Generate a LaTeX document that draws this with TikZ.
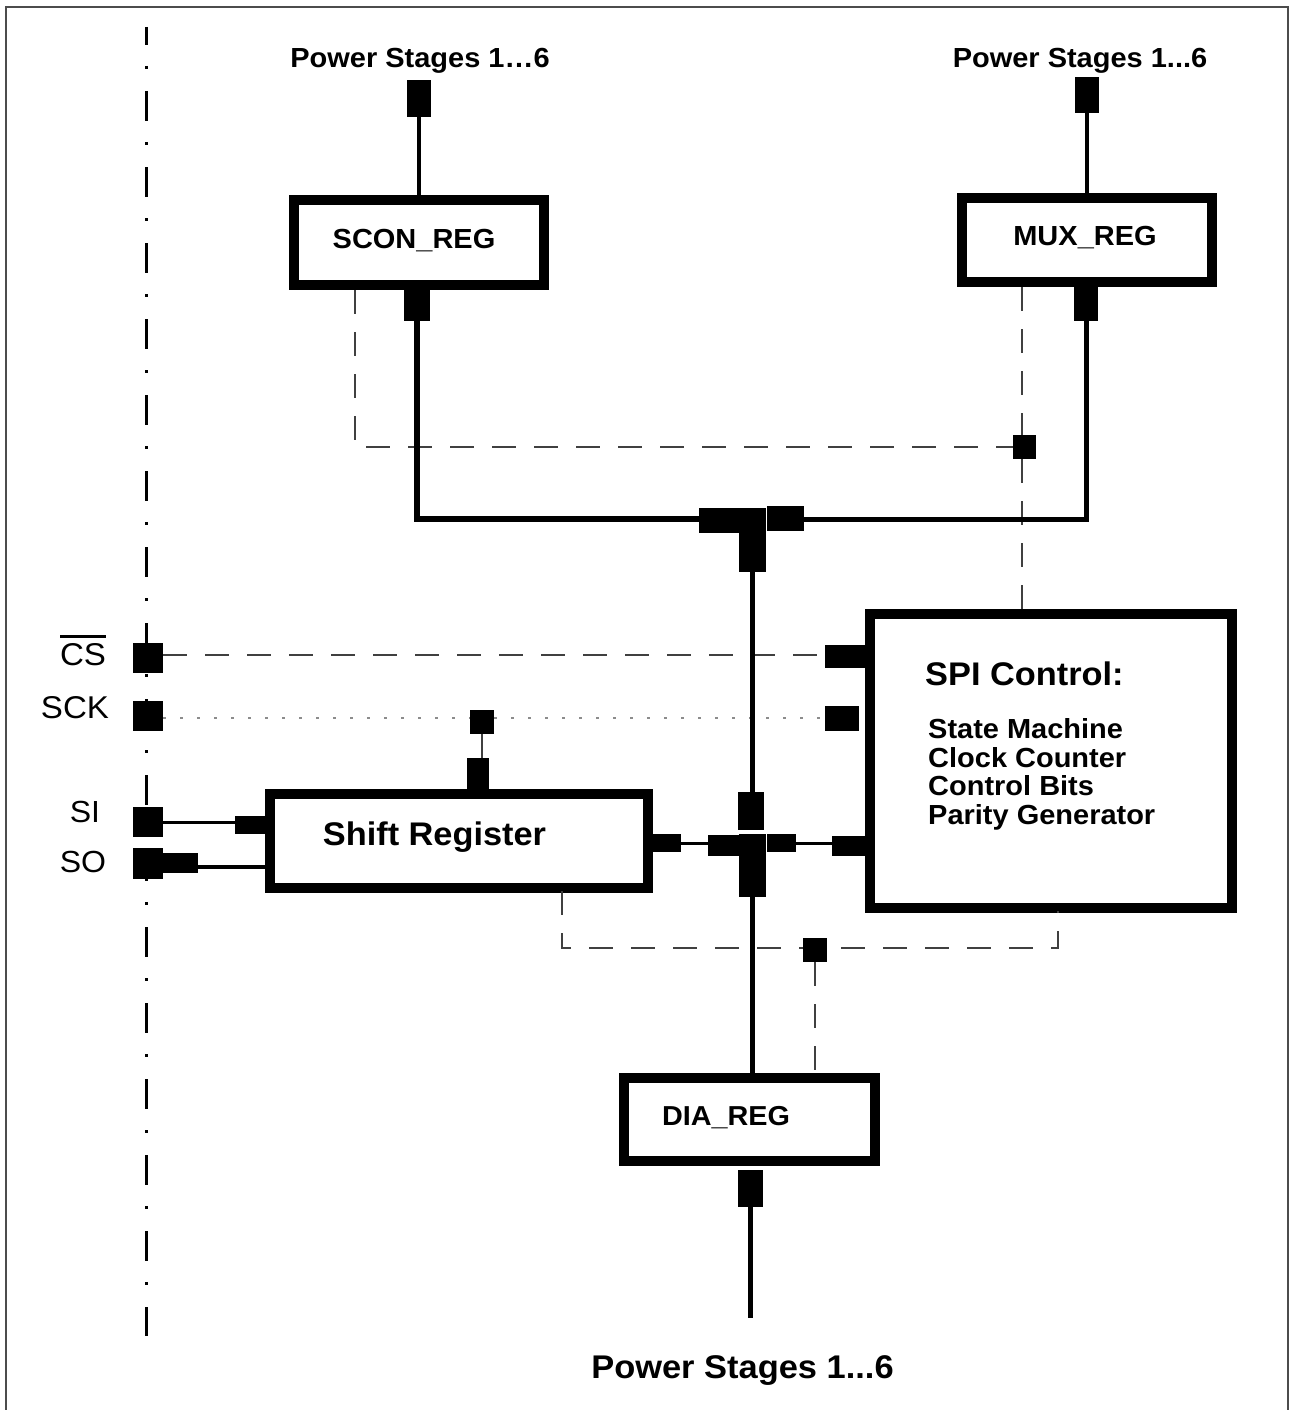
\documentclass[tikz,border=0pt]{standalone}
\usepackage{fontspec}
\setmainfont{Liberation Sans}[FakeStretch=1.05]
\newcommand\fsz[1]{\fontsize{#1}{#1}\selectfont}
\begin{document}
\begin{tikzpicture}[x=1pt,y=-1pt,
  pin/.style={fill=black, draw=none, inner sep=0pt, rectangle},
  regbox/.style={draw=black, line width=9.5pt, inner sep=0pt, rectangle},
  bus/.style={line width=4.5pt},
  thinbus/.style={line width=3pt},
  dashln/.style={line width=1.6pt, black!75, dash pattern=on 24pt off 18pt},
  dotln/.style={line width=2.5pt, black!45, dash pattern=on 3pt off 14pt},
  axisln/.style={line width=3pt, dash pattern=on 30pt off 21pt on 3pt off 22pt},
  lbl/.style={inner sep=0pt, anchor=base},
  bl/.style={lbl, font=\bfseries\fsz{#1}},
  rl/.style={lbl, font=\fsz{#1}}
]
\useasboundingbox (0,0) rectangle (1289,1410);

% outer frame (open at bottom)
\coordinate (f1) at (6,1410);
\coordinate (f2) at (6,7);
\coordinate (f3) at (1288,7);
\coordinate (f4) at (1288,1410);
\draw[line width=2pt, black!70] (f1) -- (f2) -- (f3) -- (f4);

% left dash-dot axis
\coordinate (ax1) at (146,27);
\coordinate (ax2) at (146,1336);
\draw[axisln, dash phase=12pt] (ax1) -- (ax2);

% register boxes
\node[regbox, minimum width=250pt, minimum height=85pt] (scon) at (419,242.5) {};
\node[regbox, minimum width=250pt, minimum height=84pt] (mux) at (1087,240) {};
\node[regbox, minimum width=362pt, minimum height=294pt] (spi) at (1051,761) {};
\node[regbox, minimum width=378pt, minimum height=94pt] (shift) at (459,841) {};
\node[regbox, minimum width=251pt, minimum height=83pt] (dia) at (749.5,1119.5) {};

% pins (defined, drawn on top later)
\begin{scope}
\node[pin, minimum width=24pt, minimum height=37pt] (pTL) at (419,98.5) {};
\node[pin, minimum width=24pt, minimum height=36pt] (pTR) at (1087,95) {};
\node[pin, minimum width=26pt, minimum height=31pt] (pSconB) at (417,305.5) {};
\node[pin, minimum width=24pt, minimum height=34pt] (pMuxB) at (1086,304) {};
\node[pin, minimum width=23pt, minimum height=24pt] (pDash) at (1024.5,447) {};
\node[pin, minimum width=41pt, minimum height=25pt] (jL) at (719.5,520.5) {};
\node[pin, minimum width=26pt, minimum height=64pt] (jV) at (752.5,540) {};
\node[pin, minimum width=37pt, minimum height=25pt] (jR) at (785.5,518.5) {};
\node[pin, minimum width=25pt, minimum height=38pt] (cT) at (751,811) {};
\node[pin, minimum width=32pt, minimum height=21pt] (cL) at (724,845.5) {};
\node[pin, minimum width=26pt, minimum height=63pt] (cV) at (752.5,865.5) {};
\node[pin, minimum width=29pt, minimum height=18pt] (cR) at (781.5,843) {};
\node[pin, minimum width=29pt, minimum height=18pt] (sR) at (666.5,843) {};
\node[pin, minimum width=34pt, minimum height=20pt] (spiD) at (849,846) {};
\node[pin, minimum width=40pt, minimum height=23pt] (spiCS) at (845,656.5) {};
\node[pin, minimum width=34pt, minimum height=25pt] (spiSCK) at (842,718.5) {};
\node[pin, minimum width=24pt, minimum height=24pt] (sckM) at (482,722) {};
\node[pin, minimum width=22pt, minimum height=32pt] (shT) at (478,774) {};
\node[pin, minimum width=30pt, minimum height=18pt] (siP) at (250,825) {};
\node[pin, minimum width=30pt, minimum height=29pt] (pCS) at (148,658) {};
\node[pin, minimum width=30pt, minimum height=29pt] (pSCK) at (148,716) {};
\node[pin, minimum width=30pt, minimum height=29pt] (pSI) at (148,822) {};
\node[pin, minimum width=30pt, minimum height=30pt] (pSO) at (148,863.5) {};
\node[pin, minimum width=35pt, minimum height=20pt] (pSOx) at (180.5,863) {};
\node[pin, minimum width=25pt, minimum height=37pt] (pDiaB) at (750.5,1188.5) {};
\node[pin, minimum width=24pt, minimum height=24pt] (pBd) at (815,950) {};
\end{scope}

% dashed control lines
\coordinate (d1) at (355,290);
\coordinate (m1) at (1022,287);
\coordinate (m2) at (1022,612);
\coordinate (csl) at (163,655);
\coordinate (sckl) at (163,718);
\coordinate (b1) at (562,891);
\coordinate (bL) at (562,948);
\coordinate (bR) at (1058,948);
\coordinate (b2) at (1058,911);
\begin{scope}[on background layer/.style={}]
\draw[dashln] (d1) |- (pDash.west);
\draw[dashln] (m1) -- (m1 |- pDash.north);
\draw[dashln] (m1 |- pDash.south) -- (m2);
\draw[dashln] (csl) -- (csl -| spiCS.west);
\draw[dotln] (sckl) -- (sckl -| sckM.west);
\draw[dotln] (sckl -| sckM.east) -- (sckl -| spiSCK.west);
\draw[dashln] (sckM.south) -- (sckM.south |- shT.north);
\draw[dashln] (b1) -- (bL) -- (bR) -- (b2);
\draw[dashln] (pBd.south) -- (pBd.south |- dia.north);
\end{scope}

% solid connections
\coordinate (pEnd) at (751,1318);
\draw[bus] (pTL.south) -- (pTL.south |- scon.north);
\draw[bus] (pTR.south) -- (pTR.south |- mux.north);
\draw[line width=5.5pt] (pSconB.south) |- ([yshift=1.5pt]jL.west);
\draw[line width=5pt] (pMuxB.south) |- ([yshift=-0.5pt]jR.east);
\draw[bus] (jV.south) -- (jV.south |- cT.north);
\draw[bus] (cV.south) -- (cV.south |- dia.north);
\draw[bus] (pDiaB.south) -- (pDiaB.south |- pEnd);
\draw[thinbus] (sR.east) -- (sR.east -| cL.west);
\draw[thinbus] (cR.east) -- (cR.east -| spiD.west);
\draw[thinbus] (pSI.east) -- (pSI.east -| siP.west);
\draw[bus] ([yshift=-4pt]pSOx.east) -- ([yshift=-4pt]pSOx.east -| shift.west);

% redraw pins on top
\foreach \p in {pTL,pTR,pSconB,pMuxB,pDash,jL,jV,jR,cT,cL,cV,cR,sR,spiD,spiCS,spiSCK,sckM,shT,siP,pCS,pSCK,pSI,pSO,pSOx,pDiaB,pBd}
  \fill (\p.south west) rectangle (\p.north east);

% texts
\node[bl=27.6] (tPS1) at (420,68) {Power Stages 1…6};
\node[bl=27.6] (tPS2) at (1080,68) {Power Stages 1...6};
\node[bl=32.8] (tPS3) at (742.5,1378) {Power Stages 1...6};
\node[bl=27.6] (tScon) at (414,248) {SCON\_REG};
\node[bl=27.6] (tMux) at (1085,245) {MUX\_REG};
\node[bl=27.4] (tDia) at (726,1125) {DIA\_REG};
\node[bl=32.7] (tShift) at (434.5,845) {Shift Register};
\node[bl=32.7, anchor=base west] (tSpi) at (925,685) {SPI Control:};
\node[bl=27.6, anchor=base west] (tSM) at (928,738) {State Machine};
\node[bl=27.6, anchor=base west] (tCC) at (928,767) {Clock Counter};
\node[bl=27.6, anchor=base west] (tCB) at (928,795.5) {Control Bits};
\node[bl=27.6, anchor=base west] (tPG) at (928,824) {Parity Generator};
\node[rl=31.5] (lCS) at (83,665) {\vbox{\hrule height 2.5pt\kern 5.5pt\hbox{CS}}};
\node[rl=31.5] (lSCK) at (75,718) {SCK};
\node[rl=30.5] (lSI) at (85,822) {SI};
\node[rl=30.5] (lSO) at (83,872) {SO};
\end{tikzpicture}
\end{document}
